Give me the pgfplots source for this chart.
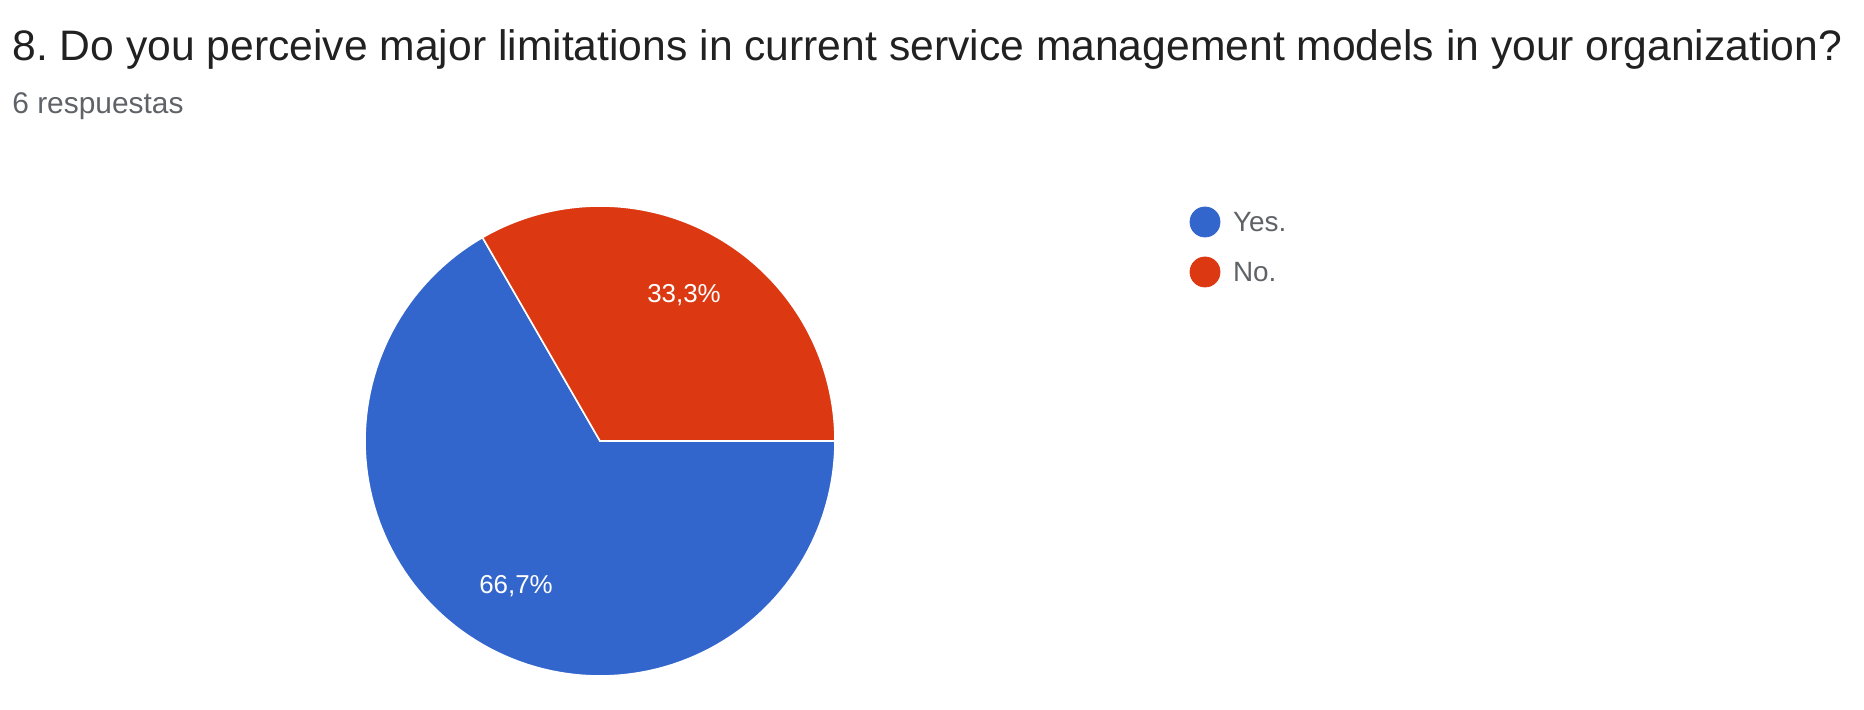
\documentclass[border=0pt]{standalone}
\usepackage{pgfplots}
\usepackage{pgfplotstable}
\pgfplotsset{compat=1.18}
\usepackage{fontspec}
\setmainfont{Liberation Sans}
\definecolor{gblue}{HTML}{3366CC}
\definecolor{gred}{HTML}{DC3912}
\definecolor{titlegray}{HTML}{212121}
\definecolor{subgray}{HTML}{5F6368}
\frenchspacing

% answers to question 8 (6 responses)
\pgfplotstableread{
label value
Yes. 4
No. 2
}\answers

\begin{document}
\begin{tikzpicture}
\pgfplotstablegetelem{0}{value}\of\answers \let\yes\pgfplotsretval
\pgfplotstablegetelem{1}{value}\of\answers \let\no\pgfplotsretval
\pgfmathsetmacro\total{\yes+\no}
% slices run counter-clockwise from 120 degrees
\pgfmathsetmacro\aA{120}
\pgfmathsetmacro\aB{\aA+360*\yes/\total}
\pgfmathsetmacro\aC{\aB+360*\no/\total}
\pgfmathsetmacro\pA{100*\yes/\total}
\pgfmathsetmacro\pB{100*\no/\total}
\pgfmathsetmacro\mA{(\aA+\aB)/2}
\pgfmathsetmacro\mB{(\aB+\aC)/2}
\begin{axis}[
    x=0.5bp, y=0.5bp,
    xmin=0, xmax=1864, ymin=0, ymax=709,
    hide axis, clip=false,
    /pgf/number format/assume math mode=true,
]
\addplot[draw=none] coordinates {(0,0) (1864,709)};
% Yes slice
\addplot[fill=gblue, draw=white, line width=0.8pt, samples at={0,...,121}, variable=\t]
    ({600+(\t<=120)*235*cos(\aA+(\aB-\aA)*\t/120)},
     {268+(\t<=120)*235*sin(\aA+(\aB-\aA)*\t/120)}) -- cycle;
% No slice
\addplot[fill=gred, draw=white, line width=0.8pt, samples at={0,...,121}, variable=\t]
    ({600+(\t<=120)*235*cos(\aB+(\aC-\aB)*\t/120)},
     {268+(\t<=120)*235*sin(\aB+(\aC-\aB)*\t/120)}) -- cycle;
\node[white, font=\fontsize{13}{15}\selectfont] at (axis cs:{600+168*cos(\mA)},{268+168*sin(\mA)})
    {\pgfmathprintnumber[fixed, precision=1, use comma, assume math mode=true]{\pA}\%};
\node[white, font=\fontsize{13}{15}\selectfont] at (axis cs:{600+168*cos(\mB)},{268+168*sin(\mB)})
    {\pgfmathprintnumber[fixed, precision=1, use comma, assume math mode=true]{\pB}\%};
% legend
\addplot[only marks, mark=*, mark size=7.5bp, gblue] coordinates {(1205,487)};
\addplot[only marks, mark=*, mark size=7.5bp, gred] coordinates {(1205,437)};
\node[anchor=west, text=subgray, font=\fontsize{14}{16}\selectfont] at (axis cs:1226,487) {Yes.};
\node[anchor=west, text=subgray, font=\fontsize{14}{16}\selectfont] at (axis cs:1226,437) {No.};
% title
\node[anchor=base west, inner sep=0pt, text=titlegray, font=\fontsize{21.4}{26}\selectfont]
    at (axis cs:12,648) {8. Do you perceive major limitations in current service management models in your organization?};
\node[anchor=base west, inner sep=0pt, text=subgray, font=\fontsize{15}{18}\selectfont]
    at (axis cs:12,595) {6 respuestas};
\end{axis}
\end{tikzpicture}
\end{document}
